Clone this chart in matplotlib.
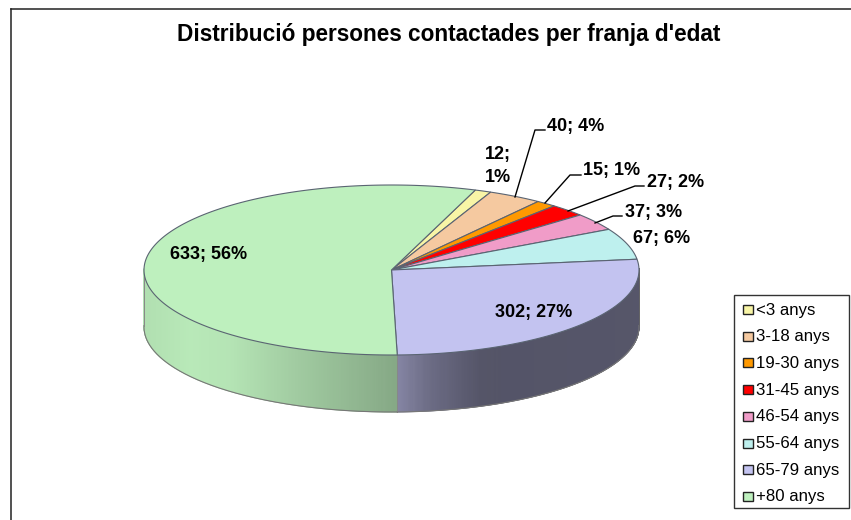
import numpy as np
import matplotlib
matplotlib.use("Agg")
import matplotlib.pyplot as plt
from matplotlib.patches import Polygon, Rectangle
from matplotlib.collections import PolyCollection

categories = ["<3 anys", "3-18 anys", "19-30 anys", "31-45 anys", "46-54 anys", "55-64 anys", "65-79 anys", "+80 anys"]
values = [12, 40, 15, 27, 37, 67, 302, 633]
percents = [1, 4, 1, 2, 3, 6, 27, 56]
colors = ["#F8F5A6", "#F5C9A0", "#FF9900", "#FF0000", "#F09CC8", "#BEF0EE", "#C3C3F0", "#BEF0BE"]
title = "Distribució persones contactades per franja d'edat"

W, H = 851, 520
CX, CY, RX, RY, DEPTH = 391.5, 270.0, 247.5, 85.0, 57.0
START = 70.2
FS = 18 * 0.72
plt.rcParams["font.family"] = ["Liberation Sans", "DejaVu Sans"]

fig = plt.figure(figsize=(W / 100, H / 100), dpi=100)
ax = fig.add_axes([0, 0, 1, 1])
ax.set_xlim(0, W)
ax.set_ylim(H, 0)
ax.axis("off")

def pt(t):
    r = np.radians(t)
    return CX + RX * np.cos(r), CY - RY * np.sin(r)

def shade(x, base, stops):
    xs, fs = zip(*stops)
    f = np.interp(x, xs, fs)
    return tuple(np.clip(np.array(matplotlib.colors.to_rgb(base)) * f, 0, 1))

edges = START - np.cumsum([0] + values) / sum(values) * 360
green_stops = [(144, 0.93), (190, 0.97), (230, 0.95), (300, 0.84), (397, 0.70)]
purple_stops = [(397, 0.68), (430, 0.55), (480, 0.43), (639, 0.44)]

# side walls, visible for the lower half of the rim
for i in (6, 7):
    a0, a1 = edges[i], edges[i + 1]
    ts = np.arange(a0, a1, -0.25)
    ts = np.append(ts, a1)
    ts = ts[(np.sin(np.radians(ts)) <= 0.02)]
    polys, cols = [], []
    stops = purple_stops if i == 6 else green_stops
    for t0, t1 in zip(ts[:-1], ts[1:]):
        x0, y0 = pt(t0)
        x1, y1 = pt(t1)
        polys.append([(x0, y0), (x1, y1), (x1, y1 + DEPTH), (x0, y0 + DEPTH)])
        cols.append(shade((x0 + x1) / 2, colors[i], stops))
    ax.add_collection(PolyCollection(polys, facecolors=cols, edgecolors=cols, linewidths=0.6, zorder=2))
    xa, ya = pt(ts[0]); xb, yb = pt(ts[-1])
    xy = [pt(t) for t in ts]
    ax.plot([p[0] for p in xy], [p[1] + DEPTH for p in xy], color="#777777", lw=0.8, zorder=3)
    if i == 6:
        ax.plot([xa, xa], [ya, ya + DEPTH], color="#666666", lw=0.7, zorder=3)
    ax.plot([xb, xb], [yb, yb + DEPTH], color="#888888", lw=0.7, zorder=3)

# top face
for i, c in enumerate(colors):
    ts = np.linspace(edges[i], edges[i + 1], 200)
    poly = [(CX, CY)] + [pt(t) for t in ts]
    ax.add_patch(Polygon(poly, closed=True, facecolor=c, edgecolor="#5A6472", lw=0.8, zorder=4))

# frame: only left and top are inside the picture
ax.plot([11, 11], [H, 9], color="#222222", lw=1.1, zorder=1)
ax.plot([11, W], [9, 9], color="#222222", lw=1.1, zorder=1)

ax.text(449, 34.5, title, ha="center", va="center", fontsize=16.25, fontweight="bold", color="black")

# data labels
def lab(i):
    return f"{values[i]}; {percents[i]}%"
label_pos = {1: (547, 127), 2: (583, 171), 3: (647, 183), 4: (625, 212), 5: (633, 239), 6: (495, 313), 7: (170, 255)}
for i, (x, y) in label_pos.items():
    ax.text(x, y, lab(i), ha="left", va="center", fontsize=FS, fontweight="bold", zorder=6)
ax.text(485, 155, f"{values[0]};", ha="left", va="center", fontsize=FS, fontweight="bold", zorder=6)
ax.text(485, 178, f"{percents[0]}%", ha="left", va="center", fontsize=FS, fontweight="bold", zorder=6)

# leader lines
leaders = [
    [(515, 197), (535, 130), (545, 130)],
    [(545, 203), (570, 175), (581, 175)],
    [(568, 211), (635, 186), (644, 186)],
    [(595, 223), (613, 216), (622, 216)],
]
for l in leaders:
    ax.plot([p[0] for p in l], [p[1] for p in l], color="black", lw=1.0, zorder=5)

# legend
ax.add_patch(Rectangle((733.5, 295), 115.5, 213, facecolor="white", edgecolor="#333333", lw=1.0, zorder=6))
for i, (name, c) in enumerate(zip(categories, colors)):
    y = 309.5 + i * 26.7
    ax.add_patch(Rectangle((743, y - 4.5), 9.5, 9, facecolor=c, edgecolor="#222222", lw=1.0, zorder=7))
    ax.text(756, y + 0.5, name, ha="left", va="center", fontsize=16.7 * 0.72, zorder=7)

fig.savefig("out.png", dpi=100, facecolor="white")
